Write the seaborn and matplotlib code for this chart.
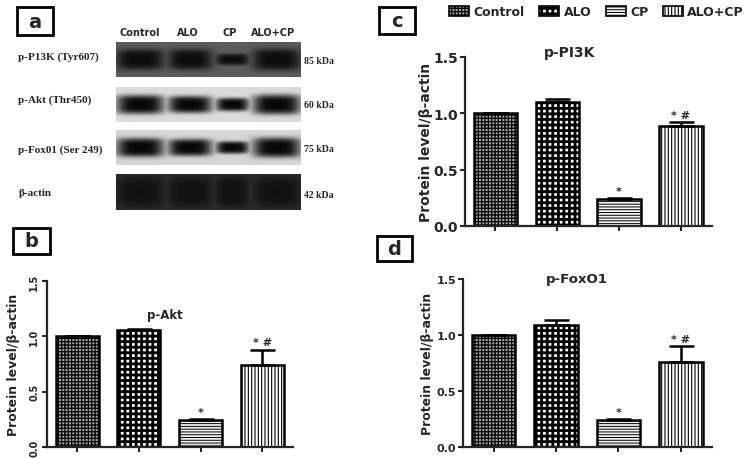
import numpy as np
import pandas as pd
import matplotlib
matplotlib.use('Agg')
import matplotlib.pyplot as plt
import seaborn as sns
from matplotlib.patches import Rectangle, Patch

# ---- data ----
groups = ['Control', 'ALO', 'CP', 'ALO+CP']

akt_mean = [1.00, 1.06, 0.24, 0.74]
akt_err = [0.00, 0.01, 0.01, 0.14]
pi3k_mean = [1.00, 1.10, 0.24, 0.89]
pi3k_err = [0.00, 0.03, 0.01, 0.03]
foxo1_mean = [1.00, 1.09, 0.24, 0.76]
foxo1_err = [0.00, 0.04, 0.01, 0.14]
sig_marks = ['', '', '*', '* #']

# western blot (panel a)
blot_rows = ['p-P13K (Tyr607)', 'p-Akt (Thr450)', 'p-Fox01 (Ser 249)', '\u03b2-actin']
blot_kda = ['85 kDa', '60 kDa', '75 kDa', '42 kDa']
blot_bg = [0.36, 0.86, 0.84, 0.18]
blot_floor = [0.05, 0.03, 0.03, 0.07]
band_thick = [[1.1, 1.1, 0.6, 1.15],
              [1.0, 0.9, 0.7, 1.05],
              [1.0, 0.9, 0.65, 1.05],
              [1.6, 1.6, 1.6, 1.6]]
lane_x = [0.13, 0.40, 0.63, 0.87]
lane_w = [0.13, 0.12, 0.09, 0.13]

# ---- style ----
sns.set_style('ticks')
plt.rcParams['font.family'] = ['DejaVu Sans']
plt.rcParams['font.weight'] = 'bold'
plt.rcParams['axes.labelweight'] = 'bold'
plt.rcParams['axes.linewidth'] = 1.6
plt.rcParams['xtick.major.width'] = 1.5
plt.rcParams['ytick.major.width'] = 1.5
plt.rcParams['xtick.major.size'] = 3.5
plt.rcParams['ytick.major.size'] = 3.5
plt.rcParams['hatch.linewidth'] = 0.8

bar_face = ['#a8a8a8', 'white', '#f2f2f2', 'white']
bar_hatch = ['+++++', '+++', '------', '|||||']
hatch_lw = [0.9, 2.0, 0.7, 0.8]

W, H = 749, 460
fig = plt.figure(figsize=(W / 100, H / 100), dpi=100)


def fx(px):
    return px / W


def fy(py):
    return 1 - py / H


def style_patch(p, fc, h, lw):
    p.set_facecolor(fc)
    p.set_hatch(h)
    if hasattr(p, 'set_hatch_linewidth'):
        p.set_hatch_linewidth(lw)


def panel_box(letter, x0, y0, x1, y1):
    fig.patches.append(Rectangle((fx(x0), fy(y1)), fx(x1 - x0), (y1 - y0) / H,
                                 transform=fig.transFigure, fill=False,
                                 edgecolor='black', linewidth=2))
    fig.text(fx((x0 + x1) / 2), fy((y0 + y1) / 2), letter, ha='center', va='center',
             fontsize=14, fontweight='bold')


# ---- panel a: blot ----
panel_box('a', 17, 8, 53, 36)
for name, xc in zip(groups, [140, 188, 230, 273]):
    fig.text(fx(xc), fy(33), name, ha='center', va='center', fontsize=7, fontweight='bold')

strip_top = [43, 88, 131, 175]
strip_bot = [78, 123, 166, 211]
row_y = [57, 100, 150, 193]
kda_y = [62, 105, 150, 195]
for i in range(4):
    ax = fig.add_axes([fx(116), fy(strip_bot[i]), fx(301 - 116), (strip_bot[i] - strip_top[i]) / H])
    xx, yy = np.meshgrid(np.linspace(0, 1, 300), np.linspace(-1, 1, 60))
    dens = np.zeros_like(xx)
    for cx, w, t in zip(lane_x, lane_w, band_thick[i]):
        dens = np.maximum(dens, np.exp(-((xx - cx) / w) ** 4 - (yy / (0.55 * t)) ** 4))
    img = blot_bg[i] - (blot_bg[i] - blot_floor[i]) * dens
    ax.imshow(img, cmap='gray', vmin=0, vmax=1, aspect='auto', extent=(0, 1, 0, 1))
    ax.axis('off')
    fig.text(fx(18), fy(row_y[i]), blot_rows[i], ha='left', va='center', fontsize=8,
             fontweight='bold', family='Liberation Serif')
    fig.text(fx(304), fy(kda_y[i]), blot_kda[i], ha='left', va='center', fontsize=7,
             fontweight='bold', family='Liberation Serif')


# ---- bar panels ----
def bar_panel(rect, means, errs, title, title_xy, tick_fs, label_fs, title_fs,
              label_x, rotate_ticks=False):
    ax = fig.add_axes(rect)
    df = pd.DataFrame({'group': groups, 'value': means})
    sns.barplot(data=df, x='group', y='value', ax=ax, width=0.7, color='white',
                edgecolor='black', linewidth=1.8, saturation=1, errorbar=None)
    for p, fc, h, lw in zip(ax.patches, bar_face, bar_hatch, hatch_lw):
        style_patch(p, fc, h, lw)
    ax.errorbar(range(4), means, yerr=[np.zeros(4), errs], fmt='none', ecolor='black',
                elinewidth=1.8, capsize=9, capthick=1.8, zorder=5)
    for i, (m, e, s) in enumerate(zip(means, errs, sig_marks)):
        if s:
            ax.text(i, m + e + 0.02, s, ha='center', va='bottom', fontsize=8, fontweight='bold')
    ax.set_ylim(0, 1.5)
    ax.set_yticks([0, 0.5, 1.0, 1.5])
    ax.set_yticklabels(['0.0', '0.5', '1.0', '1.5'], fontsize=tick_fs, fontweight='bold')
    ax.set_xlim(-0.49, 3.5)
    ax.set_xticks(range(4))
    ax.set_xticklabels([])
    ax.set_xlabel('')
    ax.set_ylabel('Protein level/\u03b2-actin', fontsize=label_fs, fontweight='bold')
    ax.yaxis.set_label_coords(label_x, 0.5)
    if rotate_ticks:
        ax.tick_params(axis='y', labelrotation=90, pad=2)
        for t in ax.get_yticklabels():
            t.set_va('center')
    else:
        ax.tick_params(axis='y', pad=1.5)
    ax.text(title_xy[0], title_xy[1], title, transform=ax.transAxes, ha='center',
            va='center', fontsize=title_fs, fontweight='bold')
    sns.despine(ax=ax)
    return ax


panel_box('b', 13, 229, 50, 255)
bar_panel([fx(47), fy(448), fx(293 - 47), (448 - 282) / H], akt_mean, akt_err,
          'p-Akt', (0.48, 0.80), 7, 9, 8.5, -0.11, rotate_ticks=True)

panel_box('c', 379, 8, 415, 35)
bar_panel([fx(465), fy(227), fx(712 - 465), (227 - 58) / H], pi3k_mean, pi3k_err,
          'p-PI3K', (0.425, 1.03), 10, 10, 10, -0.128)

panel_box('d', 377, 237, 412, 262)
bar_panel([fx(463), fy(448), fx(712 - 463), (448 - 280) / H], foxo1_mean, foxo1_err,
          'p-FoxO1', (0.458, 1.0), 8, 9, 9.5, -0.118)

# legend at top right
handles = [Patch(facecolor=fc, edgecolor='black', hatch=h, linewidth=1.2, label=g)
           for g, fc, h in zip(groups, bar_face, bar_hatch)]
leg = fig.legend(handles=handles, loc='upper left', bbox_to_anchor=(fx(443), fy(0)), ncol=4,
                 frameon=False, prop={'size': 9, 'weight': 'bold'}, handlelength=1.6,
                 handleheight=0.8, handletextpad=0.35, columnspacing=1.15, borderaxespad=0.1)
for p, fc, h, lw in zip(leg.get_patches(), bar_face, bar_hatch, hatch_lw):
    style_patch(p, fc, h, lw)

fig.savefig('out.png', dpi=100)
